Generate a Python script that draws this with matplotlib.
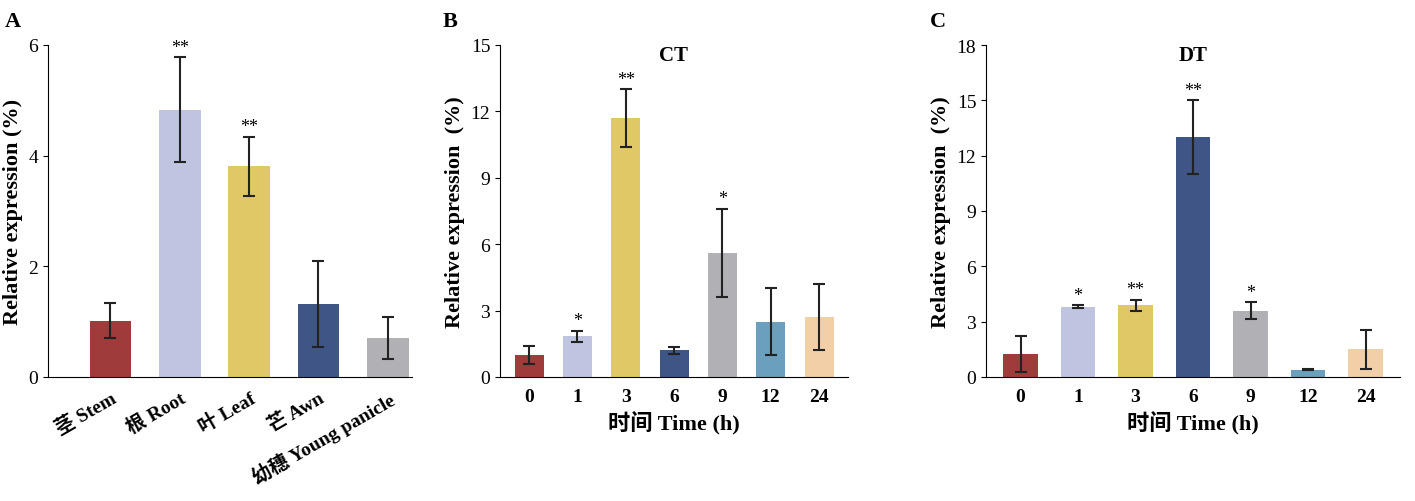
import matplotlib
matplotlib.use("Agg")
import matplotlib.pyplot as plt

FAM = ['Liberation Serif', 'Noto Sans CJK SC']
plt.rcParams['font.family'] = FAM
plt.rcParams['font.weight'] = 'bold'

a_labels = ['茎 Stem', '根 Root', '叶 Leaf', '芒 Awn', '幼穗 Young panicle']
a_vals = [1.02, 4.83, 3.81, 1.32, 0.71]
a_err = [0.32, 0.95, 0.53, 0.78, 0.38]
a_sig = ['', '**', '**', '', '']
a_cols = ['#9E3B3B', '#BFC4E0', '#DFC865', '#3E5585', '#B0B0B5']

t_labels = ['0', '1', '3', '6', '9', '12', '24']
b_vals = [1.0, 1.85, 11.7, 1.2, 5.6, 2.5, 2.7]
b_err = [0.4, 0.25, 1.3, 0.15, 2.0, 1.5, 1.5]
b_sig = ['', '*', '**', '', '*', '', '']
c_vals = [1.25, 3.8, 3.9, 13.0, 3.6, 0.4, 1.5]
c_err = [1.0, 0.08, 0.3, 2.0, 0.45, 0.03, 1.05]
c_sig = ['', '*', '**', '**', '*', '', '']
t_cols = ['#9E3B3B', '#BFC4E0', '#DFC865', '#3E5585', '#B0B0B5', '#6A9FBD', '#F3CFA8']

fig = plt.figure(figsize=(14.15, 5.02), dpi=100)
W, H = 1415, 502
def ax_at(x0, x1, y0=46, y1=378):
    return fig.add_axes([x0/W, 1-y1/H, (x1-x0)/W, (y1-y0)/H])

def draw(ax, labels, vals, errs, sigs, cols, ymax, step, ylab, title=None, xlab=None, rot=0, xl=(-0.6, None)):
    x = range(len(vals))
    ax.bar(x, vals, width=0.6, color=cols, yerr=errs, capsize=4,
           error_kw=dict(elinewidth=1.5, capthick=1.5, ecolor='#222222'))
    for i, (v, e, s) in enumerate(zip(vals, errs, sigs)):
        if s:
            ax.text(i, v+e+ymax*0.005, s, ha='center', va='bottom', fontsize=13, fontweight='normal')
    ax.set_ylim(0, ymax)
    ax.set_xlim(xl[0], xl[1] if xl[1] is not None else len(vals)-0.4)
    ax.set_yticks([i*step for i in range(int(ymax/step)+1)])
    ax.set_xticks(list(x))
    ax.set_xticklabels(labels, rotation=rot, ha='right' if rot else 'center',
                       rotation_mode='anchor' if rot else 'default', fontsize=14)
    for t in ax.get_yticklabels():
        t.set_fontweight('normal')
    ax.tick_params(axis='y', labelsize=14, direction='out')
    ax.tick_params(axis='x', length=0, pad=8)
    for s in ['top', 'right']:
        ax.spines[s].set_visible(False)
    ax.set_ylabel(ylab, fontsize=16, fontweight='bold')
    if title:
        ax.text(0.5, 1.0, title, transform=ax.transAxes, ha='center', va='top', fontsize=15, fontweight='bold')
    if xlab:
        ax.set_xlabel(xlab, fontsize=16, fontweight='bold')

axA = ax_at(48, 412)
draw(axA, a_labels, a_vals, a_err, a_sig, a_cols, 6, 2, 'Relative expression (%)', rot=30, xl=(-0.9, 4.35))
axB = ax_at(500, 848)
draw(axB, t_labels, b_vals, b_err, b_sig, t_cols, 15, 3, 'Relative expression  (%)', title='CT', xlab='时间 Time (h)')
axC = ax_at(986, 1400)
draw(axC, t_labels, c_vals, c_err, c_sig, t_cols, 18, 3, 'Relative expression  (%)', title='DT', xlab='时间 Time (h)')

for lab, xp in [('A', 5), ('B', 443), ('C', 930)]:
    fig.text(xp/W, 1-22/H, lab, fontsize=16, fontweight='bold', va='center')

fig.savefig('out.png', dpi=100)
